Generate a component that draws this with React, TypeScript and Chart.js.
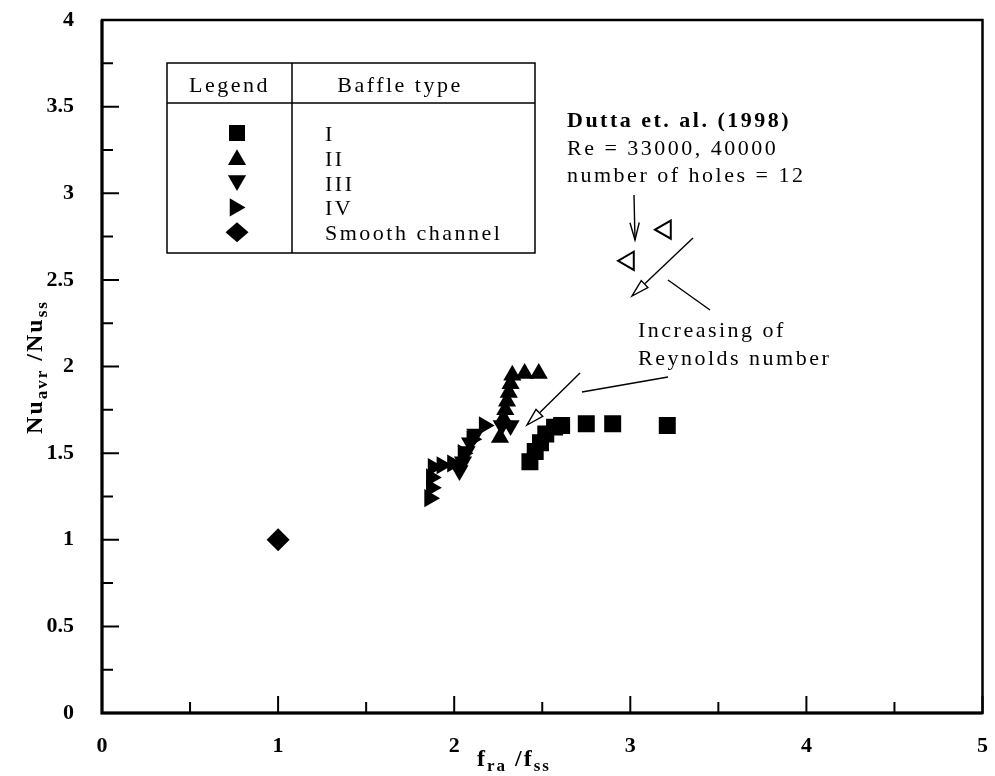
import React, { useEffect, useRef } from "react";
import { Chart, registerables } from "chart.js";

Chart.register(...registerables);

// Baffle type I (filled squares)
const typeIX = [2.43, 2.46, 2.49, 2.52, 2.57, 2.61, 2.75, 2.9, 3.21];
const typeIY = [1.45, 1.51, 1.56, 1.61, 1.65, 1.66, 1.67, 1.67, 1.66];
// Baffle type II (filled up-triangles)
const typeIIX = [2.26, 2.28, 2.29, 2.3, 2.31, 2.32, 2.33, 2.4, 2.48];
const typeIIY = [1.59, 1.7, 1.75, 1.8, 1.85, 1.9, 1.95, 1.96, 1.96];
// Baffle type III (filled down-triangles)
const typeIIIX = [2.03, 2.05, 2.07, 2.09, 2.12, 2.27, 2.32];
const typeIIIY = [1.4, 1.45, 1.51, 1.56, 1.61, 1.66, 1.66];
// Baffle type IV (filled right-triangles)
const typeIVX = [1.86, 1.87, 1.87, 1.88, 1.93, 1.99, 2.05, 2.1, 2.17];
const typeIVY = [1.24, 1.3, 1.36, 1.42, 1.43, 1.44, 1.5, 1.58, 1.66];
// Smooth channel reference
const smoothX = [1.0];
const smoothY = [1.0];
// Dutta et al. (1998), Re = 33000 and 40000
const duttaX = [2.99, 3.2];
const duttaY = [2.61, 2.79];

// Axis ticks
const xMajorTicks = [0, 1, 2, 3, 4, 5];
const xMinorTicks = [0.5, 1.5, 2.5, 3.5, 4.5];
const yMajorTicks = [0, 0.5, 1, 1.5, 2, 2.5, 3, 3.5, 4];
const yMinorTicks = [0.25, 0.75, 1.25, 1.75, 2.25, 2.75, 3.25, 3.75];

// Legend table rows
const legendLabels = ["I", "II", "III", "IV", "Smooth channel"];
const legendShapes = ["square", "up", "down", "right", "diamond"];

const SERIF = '"Liberation Serif", "Times New Roman", serif';
const TEXT_FONT = `22px ${SERIF}`;
const TRACKING = "2.5px";

const toPts = (xs: number[], ys: number[]) => xs.map((x, i) => ({ x, y: ys[i] }));

function drawShape(ctx: CanvasRenderingContext2D, kind: string, cx: number, cy: number) {
  ctx.beginPath();
  const r = 10.5;
  if (kind === "square") {
    ctx.rect(cx - 8, cy - 8, 16, 16);
  } else if (kind === "diamond") {
    ctx.moveTo(cx, cy - 10);
    ctx.lineTo(cx + 11.5, cy);
    ctx.lineTo(cx, cy + 10);
    ctx.lineTo(cx - 11.5, cy);
  } else {
    const rot = kind === "up" ? 0 : kind === "down" ? Math.PI : Math.PI / 2;
    const dx = kind === "right" ? -2 : 0;
    const dy = kind === "up" ? 2 : kind === "down" ? -2 : 0;
    for (let k = 0; k < 3; k++) {
      const a = rot + (k * 2 * Math.PI) / 3;
      const px = cx + dx + Math.sin(a) * r;
      const py = cy + dy - Math.cos(a) * r;
      if (k === 0) ctx.moveTo(px, py);
      else ctx.lineTo(px, py);
    }
  }
  ctx.closePath();
  ctx.fill();
}

// Draws a bold title with subscripts, centred on the current origin
function subText(
  ctx: CanvasRenderingContext2D,
  parts: { t: string; sub?: boolean }[],
  big: number,
  small: number
) {
  const fontBig = `bold ${big}px ${SERIF}`;
  const fontSmall = `bold ${small}px ${SERIF}`;
  (ctx as any).letterSpacing = "2px";
  let total = 0;
  for (const p of parts) {
    ctx.font = p.sub ? fontSmall : fontBig;
    total += ctx.measureText(p.t).width;
  }
  let x = -total / 2;
  for (const p of parts) {
    ctx.font = p.sub ? fontSmall : fontBig;
    ctx.fillText(p.t, x, p.sub ? 7 : 0);
    x += ctx.measureText(p.t).width;
  }
  (ctx as any).letterSpacing = "0px";
}

function arrowLine(
  ctx: CanvasRenderingContext2D,
  x1: number,
  y1: number,
  x2: number,
  y2: number,
  head: "open" | "hollow"
) {
  const ang = Math.atan2(y2 - y1, x2 - x1);
  const len = 18;
  const spread = head === "open" ? 0.26 : 0.27;
  const bx = x2 - Math.cos(ang) * len;
  const by = y2 - Math.sin(ang) * len;
  ctx.beginPath();
  ctx.moveTo(x1, y1);
  ctx.lineTo(head === "open" ? x2 : bx, head === "open" ? y2 : by);
  ctx.stroke();
  const lx = x2 - Math.cos(ang - spread) * len;
  const ly = y2 - Math.sin(ang - spread) * len;
  const rx = x2 - Math.cos(ang + spread) * len;
  const ry = y2 - Math.sin(ang + spread) * len;
  ctx.beginPath();
  ctx.moveTo(lx, ly);
  ctx.lineTo(x2, y2);
  ctx.lineTo(rx, ry);
  if (head === "open") {
    ctx.stroke();
  } else {
    ctx.closePath();
    ctx.fillStyle = "#fff";
    ctx.fill();
    ctx.stroke();
    ctx.fillStyle = "#000";
  }
}

const decorPlugin = {
  id: "decor",
  afterDraw(chart: any) {
    const { ctx, chartArea: a, scales } = chart;
    const sx = scales.x;
    const sy = scales.y;
    const X = (v: number) => sx.getPixelForValue(v);
    const Y = (v: number) => sy.getPixelForValue(v);
    ctx.save();
    ctx.strokeStyle = "#000";
    ctx.fillStyle = "#000";

    // Frame
    ctx.lineWidth = 2.5;
    ctx.strokeRect(a.left, a.top, a.right - a.left, a.bottom - a.top);
    ctx.lineWidth = 3;
    ctx.beginPath();
    ctx.moveTo(a.left, a.top);
    ctx.lineTo(a.left, a.bottom);
    ctx.lineTo(a.right, a.bottom);
    ctx.stroke();

    // Inward ticks
    ctx.lineWidth = 2;
    ctx.beginPath();
    for (const v of xMajorTicks) {
      ctx.moveTo(X(v), a.bottom);
      ctx.lineTo(X(v), a.bottom - 17);
    }
    for (const v of xMinorTicks) {
      ctx.moveTo(X(v), a.bottom);
      ctx.lineTo(X(v), a.bottom - 11);
    }
    for (const v of yMajorTicks) {
      ctx.moveTo(a.left, Y(v));
      ctx.lineTo(a.left + 17, Y(v));
    }
    for (const v of yMinorTicks) {
      ctx.moveTo(a.left, Y(v));
      ctx.lineTo(a.left + 11, Y(v));
    }
    ctx.stroke();

    // Axis titles
    ctx.textBaseline = "middle";
    ctx.textAlign = "left";
    ctx.save();
    ctx.translate(514, 760);
    subText(ctx, [{ t: "f" }, { t: "ra", sub: true }, { t: " /f" }, { t: "ss", sub: true }], 24, 17);
    ctx.restore();
    ctx.save();
    ctx.translate(36, 367);
    ctx.rotate(-Math.PI / 2);
    subText(ctx, [{ t: "Nu" }, { t: "avr", sub: true }, { t: " /Nu" }, { t: "ss", sub: true }], 24, 17);
    ctx.restore();

    // Legend table
    const L = { left: 167, right: 535, top: 63, head: 103, bottom: 253, div: 292 };
    ctx.lineWidth = 1.5;
    ctx.beginPath();
    ctx.rect(L.left, L.top, L.right - L.left, L.bottom - L.top);
    ctx.moveTo(L.left, L.head);
    ctx.lineTo(L.right, L.head);
    ctx.moveTo(L.div, L.top);
    ctx.lineTo(L.div, L.bottom);
    ctx.stroke();
    ctx.font = TEXT_FONT;
    (ctx as any).letterSpacing = TRACKING;
    ctx.textBaseline = "alphabetic";
    ctx.textAlign = "center";
    ctx.fillText("Legend", (L.left + L.div) / 2, 92);
    ctx.fillText("Baffle type", 400, 92);
    ctx.textAlign = "left";
    legendLabels.forEach((lab, i) => {
      const cy = 133 + i * 24.8;
      drawShape(ctx, legendShapes[i], 237, cy);
      ctx.fillText(lab, 325, cy + 8);
    });

    // Annotations
    ctx.font = `bold 22px ${SERIF}`;
    ctx.fillText("Dutta et. al. (1998)", 567, 127);
    ctx.font = TEXT_FONT;
    ctx.fillText("Re = 33000, 40000", 567, 155);
    ctx.fillText("number of holes = 12", 567, 182);
    ctx.fillText("Increasing of", 638, 337);
    ctx.fillText("Reynolds number", 638, 365);
    (ctx as any).letterSpacing = "0px";

    ctx.lineWidth = 1.4;
    arrowLine(ctx, 634, 195, 635, 240, "open");
    arrowLine(ctx, 693, 238, 632, 296, "hollow");
    arrowLine(ctx, 580, 373, 527, 425, "hollow");
    ctx.beginPath();
    ctx.moveTo(668, 280);
    ctx.lineTo(710, 310);
    ctx.moveTo(582, 392);
    ctx.lineTo(668, 377);
    ctx.stroke();

    ctx.restore();
  },
};

export default function App() {
  const ref = useRef<HTMLCanvasElement>(null);
  useEffect(() => {
    const filled = (data: any[], pointStyle: string, rotation: number, radius: number) => ({
      data,
      pointStyle,
      rotation,
      pointRadius: radius,
      pointHoverRadius: radius,
      backgroundColor: "#000",
      borderColor: "#000",
      borderWidth: 0,
      showLine: false,
    });
    const tickFont = { family: SERIF, size: 22, weight: "bold" as const };
    const chart = new Chart(ref.current as HTMLCanvasElement, {
      type: "scatter",
      data: {
        datasets: [
          { label: "I", ...filled(toPts(typeIX, typeIY), "rect", 0, 12) },
          { label: "II", ...filled(toPts(typeIIX, typeIIY), "triangle", 0, 10.5) },
          { label: "III", ...filled(toPts(typeIIIX, typeIIIY), "triangle", 180, 10.5) },
          { label: "IV", ...filled(toPts(typeIVX, typeIVY), "triangle", 90, 10.5) },
          { label: "Smooth channel", ...filled(toPts(smoothX, smoothY), "rectRot", 0, 11.5) },
          {
            label: "Dutta et. al. (1998)",
            data: toPts(duttaX, duttaY),
            pointStyle: "triangle",
            rotation: 270,
            pointRadius: 10.5,
            backgroundColor: "#fff",
            borderColor: "#000",
            borderWidth: 2,
            showLine: false,
          },
        ],
      },
      options: {
        responsive: false,
        animation: false,
        devicePixelRatio: 1,
        layout: { padding: { left: 8, right: 9, top: 20, bottom: 0 } },
        plugins: { legend: { display: false }, tooltip: { enabled: false } },
        scales: {
          x: {
            type: "linear",
            min: 0,
            max: 5,
            grid: { display: false },
            border: { display: false },
            ticks: {
              stepSize: 1,
              color: "#000",
              padding: 12,
              font: tickFont,
              callback: (v: any) => String(v),
            },
            afterFit: (s: any) => {
              s.height = 63;
              s.paddingLeft = 0;
              s.paddingRight = 0;
            },
          },
          y: {
            type: "linear",
            min: 0,
            max: 4,
            grid: { display: false },
            border: { display: false },
            ticks: {
              stepSize: 0.5,
              color: "#000",
              padding: 20,
              font: tickFont,
              callback: (v: any) => String(v),
            },
            afterFit: (s: any) => {
              s.width = 94;
              s.paddingTop = 0;
              s.paddingBottom = 0;
            },
          },
        },
      },
      plugins: [decorPlugin],
    });
    return () => chart.destroy();
  }, []);
  return (
    <div style={{ position: "absolute", left: 0, top: 0, width: 995, height: 776, background: "#fff" }}>
      <canvas ref={ref} width={995} height={776} style={{ display: "block" }} />
    </div>
  );
}
